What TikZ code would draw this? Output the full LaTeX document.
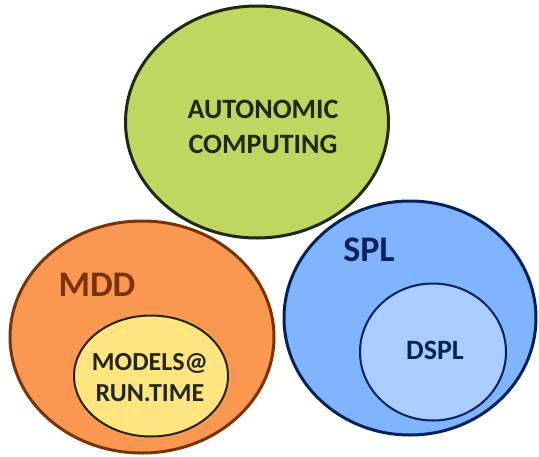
\documentclass[tikz,border=0pt]{standalone}
\usepackage{fontspec}
\setmainfont{Carlito}
\usetikzlibrary{shapes.geometric}
\definecolor{greenfill}{RGB}{192,214,96}
\definecolor{greenline}{RGB}{32,40,14}
\definecolor{orangefill}{RGB}{250,152,82}
\definecolor{orangeline}{RGB}{122,52,4}
\definecolor{yellowfill}{RGB}{255,228,128}
\definecolor{bluefill}{RGB}{128,180,255}
\definecolor{blueline}{RGB}{4,34,90}
\definecolor{lightblue}{RGB}{170,204,255}
\definecolor{darktext}{RGB}{34,40,14}
\tikzset{
  blob/.style={ellipse, inner sep=0pt, line width=3pt},
  inblob/.style={ellipse, inner sep=0pt, line width=2pt},
  lab/.style={font=\bfseries, align=center, inner sep=0pt}
}
\begin{document}
\begin{tikzpicture}[x=1pt,y=-1pt]
\useasboundingbox (0,0) rectangle (539,456);
\node[blob, draw=greenline, fill=greenfill, minimum width=263pt, minimum height=232pt] (ac) at (257,122) {};
\node[blob, draw=orangeline, fill=orangefill, minimum width=264pt, minimum height=232pt] (mdd) at (142,337) {};
\node[blob, draw=blueline, fill=bluefill, minimum width=252pt, minimum height=234pt] (spl) at (410,318) {};
\node[inblob, draw=greenline, fill=yellowfill, minimum width=154pt, minimum height=121pt] (mrt) at (151,376) {};
\node[inblob, draw=blueline, fill=lightblue, minimum width=146pt, minimum height=137pt] (dspl) at (433,352) {};
\node[lab, text=darktext, font=\fontsize{28}{35}\selectfont\bfseries] (actext) at (263,127) {AUTONOMIC\\COMPUTING};
\node[lab, text=orangeline, font=\fontsize{36}{40}\selectfont\bfseries] (mddtext) at (97,285) {MDD};
\node[lab, text=blueline, font=\fontsize{36}{40}\selectfont\bfseries] (spltext) at (369,250) {SPL};
\node[lab, text=darktext, font=\fontsize{26}{31}\selectfont\bfseries] (mrttext) at (150,378) {MODELS@\\RUN.TIME};
\node[lab, text=blueline, font=\fontsize{28}{32}\selectfont\bfseries] (dspltext) at (435,350) {DSPL};
\end{tikzpicture}
\end{document}
